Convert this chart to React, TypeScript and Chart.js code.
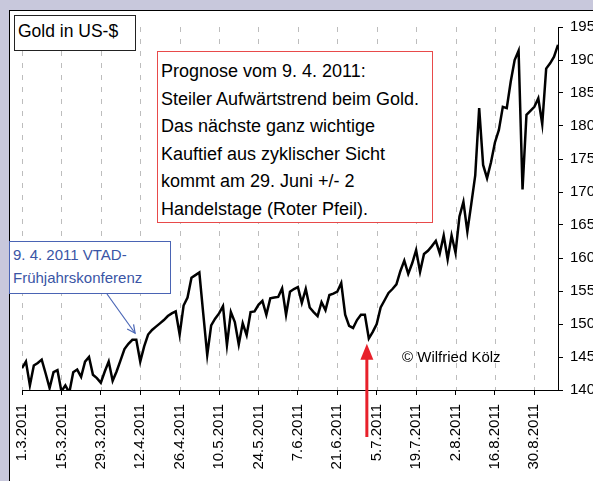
import React, { useEffect, useRef } from "react";
import { Chart, registerables } from "chart.js";

Chart.register(...registerables);

// Tick labels (every 10th trading day, starting 1.3.2011)
const tickLabels = [
  "1.3.2011", "15.3.2011", "29.3.2011", "12.4.2011", "26.4.2011", "10.5.2011", "24.5.2011",
  "7.6.2011", "21.6.2011", "5.7.2011", "19.7.2011", "2.8.2011", "16.8.2011", "30.8.2011",
];

// Daily gold price in US-$ (trading days from 1.3.2011)
const goldValues = [
  1433, 1443, 1407, 1437, 1441, 1446, 1425, 1403, 1427, 1430,
  1398, 1407, 1396, 1427, 1431, 1420, 1443, 1450, 1423, 1418,
  1411, 1428, 1443, 1414, 1428, 1445, 1462, 1470, 1476, 1476,
  1443, 1466, 1484, 1491, 1496, 1501, 1506, 1512, 1516, 1519,
  1484, 1528, 1540, 1570, 1574, 1578, 1515, 1453, 1498, 1508,
  1516, 1527, 1468, 1518, 1503, 1469, 1501, 1483, 1518, 1519,
  1529, 1535, 1514, 1539, 1540, 1541, 1554, 1514, 1549, 1553,
  1556, 1532, 1553, 1525, 1518, 1512, 1533, 1521, 1544, 1546,
  1549, 1562, 1514, 1497, 1494, 1506, 1514, 1514, 1478, 1488,
  1500, 1525, 1536, 1547, 1553, 1560, 1580, 1596, 1576, 1592,
  1612, 1579, 1606, 1611, 1618, 1626, 1607, 1634, 1598, 1634,
  1608, 1663, 1685, 1640, 1682, 1725, 1827, 1741, 1721, 1745,
  1775, 1794, 1829, 1827, 1867, 1900, 1914, 1704, 1817, 1823,
  1829, 1842, 1803, 1887, 1895, 1905, 1923,
];

const yMin = 1400;
const yMax = 1950;
const yStep = 50;
const xMax = 136;
const xStep = 10;

// annotation anchors (in data units)
const blueArrowTarget = { x: 28.7, y: 1486 };
const redArrowTarget = { x: 87.5, y: 1470 };

const FONT = "'Liberation Sans', Arial, sans-serif";

export default function App() {
  const ref = useRef<HTMLCanvasElement>(null);

  useEffect(() => {
    const canvas = ref.current;
    if (!canvas) return;
    const W = 640;
    const H = 481;

    const plugin = {
      id: "custom",
      beforeDatasetsDraw(chart: any) {
        const { ctx, chartArea, scales } = chart;
        const xs = scales.x;
        ctx.save();
        ctx.strokeStyle = "#bdbdbd";
        ctx.lineWidth = 1;
        ctx.setLineDash([5, 7]);
        xs.ticks.forEach((t: any) => {
          const x = Math.round(xs.getPixelForValue(t.value)) + 0.5;
          ctx.beginPath();
          ctx.moveTo(x, chartArea.top);
          ctx.lineTo(x, chartArea.bottom);
          ctx.stroke();
        });
        ctx.restore();
      },
      afterDraw(chart: any) {
        const { ctx, scales } = chart;
        const xs = scales.x;
        const ys = scales.y;
        ctx.save();
        // blue arrow
        const bx = xs.getPixelForValue(blueArrowTarget.x);
        const by = ys.getPixelForValue(blueArrowTarget.y);
        const sx = 107;
        const sy = 294;
        ctx.strokeStyle = "#4a66b6";
        ctx.lineWidth = 1.2;
        ctx.beginPath();
        ctx.moveTo(sx, sy);
        ctx.lineTo(bx, by);
        ctx.stroke();
        const ang = Math.atan2(by - sy, bx - sx);
        const hl = 9;
        ctx.beginPath();
        ctx.moveTo(bx - hl * Math.cos(ang - 0.45), by - hl * Math.sin(ang - 0.45));
        ctx.lineTo(bx, by);
        ctx.lineTo(bx - hl * Math.cos(ang + 0.45), by - hl * Math.sin(ang + 0.45));
        ctx.stroke();

        // red arrow
        const rx = xs.getPixelForValue(redArrowTarget.x);
        const ry = ys.getPixelForValue(redArrowTarget.y);
        ctx.strokeStyle = "#e8202a";
        ctx.fillStyle = "#e8202a";
        ctx.lineWidth = 3;
        ctx.beginPath();
        ctx.moveTo(rx, ry + 12);
        ctx.lineTo(rx, 437);
        ctx.stroke();
        ctx.beginPath();
        ctx.moveTo(rx, ry);
        ctx.lineTo(rx - 6.5, ry + 16);
        ctx.lineTo(rx + 6.5, ry + 16);
        ctx.closePath();
        ctx.fill();
        ctx.restore();
      },
    };

    const chart = new Chart(canvas, {
      type: "line",
      data: {
        datasets: [
          {
            data: goldValues.map((v, i) => ({ x: i, y: v })),
            borderColor: "#000",
            borderWidth: 2.5,
            pointRadius: 0,
            tension: 0,
            fill: false,
          },
        ],
      },
      options: {
        responsive: false,
        animation: false,
        devicePixelRatio: 1,
        layout: { padding: { left: 22, top: 27, right: 0, bottom: 0 } },
        plugins: { legend: { display: false }, tooltip: { enabled: false } },
        scales: {
          x: {
            type: "linear",
            min: 0,
            max: xMax,
            afterFit: (s: any) => {
              s.height = H - 390;
            },
            grid: {
              drawOnChartArea: false,
              drawTicks: true,
              tickLength: 5,
              color: "#000",
              tickColor: "#000",
            },
            border: { display: true, color: "#000", width: 1 },
            ticks: {
              stepSize: xStep,
              includeBounds: false,
              autoSkip: false,
              maxRotation: 90,
              minRotation: 90,
              padding: 9,
              color: "#000",
              font: { family: FONT, size: 15 },
              callback: (v: any) => {
                const k = Number(v) / xStep;
                return Number.isInteger(k) && tickLabels[k] ? tickLabels[k] : "";
              },
            },
          },
          y: {
            type: "linear",
            position: "right",
            min: yMin,
            max: yMax,
            afterFit: (s: any) => {
              s.width = W - 558;
            },
            grid: {
              drawOnChartArea: false,
              drawTicks: true,
              tickLength: 5,
              color: "#000",
              tickColor: "#000",
            },
            border: { display: true, color: "#000", width: 1 },
            ticks: {
              stepSize: yStep,
              padding: 7,
              color: "#000",
              font: { family: FONT, size: 15 },
              callback: (v: any) => String(v),
            },
          },
        },
      },
      plugins: [plugin],
    } as any);

    return () => chart.destroy();
  }, []);

  return (
    <div
      style={{
        position: "absolute",
        left: 0,
        top: 0,
        width: 593,
        height: 481,
        overflow: "hidden",
        background: "#c8c8dc",
        fontFamily: FONT,
        color: "#000",
      }}
    >
      <div
        style={{
          position: "absolute",
          left: 9,
          top: 10,
          width: 700,
          height: 600,
          background: "#fff",
          border: "1px solid #000",
        }}
      />
      <canvas
        ref={ref}
        width={640}
        height={481}
        style={{ position: "absolute", left: 0, top: 0, width: 640, height: 481 }}
      />
      <div
        style={{
          position: "absolute",
          left: 14,
          top: 15,
          width: 122,
          height: 36,
          boxSizing: "border-box",
          border: "1px solid #222",
          background: "#fff",
          fontSize: 17.5,
          lineHeight: "30px",
          paddingLeft: 3,
          whiteSpace: "nowrap",
        }}
      >
        Gold in US-$
      </div>
      <div
        style={{
          position: "absolute",
          left: 157,
          top: 51,
          width: 276,
          height: 172,
          boxSizing: "border-box",
          border: "1px solid #e84a4a",
          background: "#fff",
          fontSize: 18,
          lineHeight: "27.5px",
          padding: "6px 0 0 3px",
          whiteSpace: "nowrap",
        }}
      >
        Prognose vom 9. 4. 2011:
        <br />
        Steiler Aufwärtstrend beim Gold.
        <br />
        Das nächste ganz wichtige
        <br />
        Kauftief aus zyklischer Sicht
        <br />
        kommt am 29. Juni +/- 2
        <br />
        Handelstage (Roter Pfeil).
      </div>
      <div
        style={{
          position: "absolute",
          left: 9,
          top: 241,
          width: 162,
          height: 53,
          boxSizing: "border-box",
          border: "1px solid #4a64b4",
          background: "#fff",
          color: "#3a55a5",
          fontSize: 15,
          lineHeight: "23px",
          padding: "1px 0 0 3px",
          whiteSpace: "nowrap",
        }}
      >
        9. 4. 2011 VTAD-
        <br />
        Frühjahrskonferenz
      </div>
      <div
        style={{
          position: "absolute",
          left: 402,
          top: 348,
          fontSize: 15,
          lineHeight: "18px",
          whiteSpace: "nowrap",
        }}
      >
        © Wilfried Kölz
      </div>
    </div>
  );
}
